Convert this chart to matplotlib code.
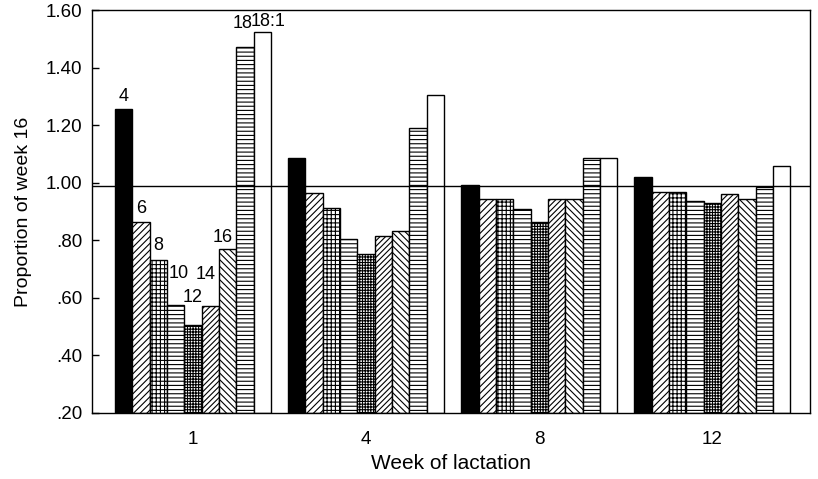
import numpy as np
import matplotlib
matplotlib.use("Agg")
import matplotlib.pyplot as plt

plt.rcParams['font.family'] = ['Liberation Sans', 'DejaVu Sans']
plt.rcParams['hatch.linewidth'] = 0.8

# week of lactation groups
weeks = ['1', '4', '8', '12']
# series (labelled above the week 1 bars)
series = ['4', '6', '8', '10', '12', '14', '16', '18', '18:1']

# proportion of week 16, one list per series (values for weeks 1, 4, 8, 12)
s4 = [1.256, 1.086, 0.992, 1.020]
s6 = [0.863, 0.964, 0.943, 0.969]
s8 = [0.732, 0.912, 0.943, 0.969]
s10 = [0.576, 0.805, 0.909, 0.938]
s12 = [0.504, 0.751, 0.864, 0.928]
s14 = [0.573, 0.815, 0.943, 0.961]
s16 = [0.770, 0.834, 0.943, 0.945]
s18 = [1.471, 1.190, 1.086, 0.984]
s18_1 = [1.524, 1.306, 1.086, 1.057]
values = [s4, s6, s8, s10, s12, s14, s16, s18, s18_1]

ref_line = 0.99

# styles for each series
faces = ['black', 'white', 'white', 'white', 'white', 'white', 'white', 'white', 'white']
hatches = [None, '/////', '++++', '----', '++++++', '//////', '\\\\\\\\\\', '----', None]
# label offsets above bar top (pixels): dx, dy
lab_off = [(0, 8), (0, 9), (0, 10), (3, 27), (0, 23), (-5, 27), (-5, 7), (-2, 19), (6, 6)]

fig = plt.figure(figsize=(8.18, 4.79), dpi=100)
ax = fig.add_axes([0.1125, 0.1378, 0.8775, 0.8413])

x = np.arange(len(weeks))
width = 0.1
for i, name in enumerate(series):
    pos = x + (i - 4) * width
    ax.bar(pos, np.array(values[i]) - 0.2, width, bottom=0.2, color=faces[i],
           edgecolor='black', linewidth=1.0, hatch=hatches[i], zorder=2)
    ax.annotate(name, (pos[0], values[i][0]), xytext=lab_off[i],
                textcoords='offset pixels', ha='center', va='baseline',
                fontsize=13, zorder=4)

ax.axhline(ref_line, color='black', linewidth=1.0, zorder=3)

ax.set_ylim(0.2, 1.6)
ax.set_xlim(-0.583, 3.563)
yt = np.arange(0.2, 1.61, 0.2)
ax.set_yticks(yt)
ax.set_yticklabels(['.20', '.40', '.60', '.80', '1.00', '1.20', '1.40', '1.60'])
ax.tick_params(axis='y', direction='in', length=5, width=1, labelsize=13.5, pad=7)
ax.set_xticks(x)
ax.set_xticklabels(weeks)
ax.tick_params(axis='x', length=0, labelsize=13.5, pad=13)
for sp in ax.spines.values():
    sp.set_linewidth(1.0)

ax.set_xlabel('Week of lactation', fontsize=15, labelpad=4)
ax.set_ylabel('Proportion of week 16', fontsize=14, labelpad=10)

fig.savefig('out.png', dpi=100)
